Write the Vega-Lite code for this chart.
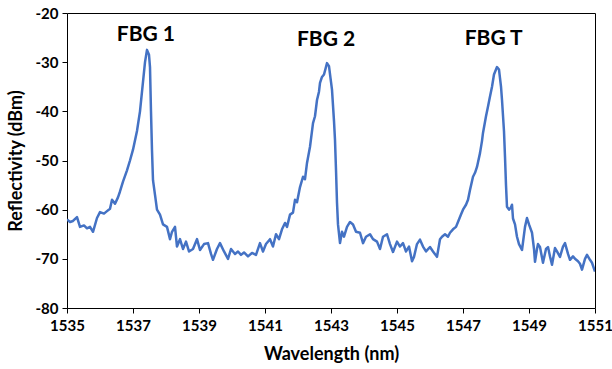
{
  "$schema": "https://vega.github.io/schema/vega-lite/v6.json",
  "width": 528,
  "height": 295,
  "autosize": {"type": "none"},
  "padding": {"left": 67, "top": 13, "right": 17, "bottom": 61},
  "background": "white",
  "config": {
    "view": {"stroke": "#000000", "strokeWidth": 1},
    "font": "Lato",
    "axis": {
      "grid": false,
      "domain": false,
      "tickColor": "#000000",
      "tickSize": 5,
      "labelFont": "Lato",
      "labelFontWeight": "bold",
      "labelFontSize": 15,
      "labelColor": "#000000",
      "titleFont": "Lato",
      "titleFontWeight": "bold",
      "titleFontSize": 18,
      "titleColor": "#000000"
    }
  },
  "datasets": {
    "spectrum": [
      {"wl": 1535.000, "r": -62.0}, {"wl": 1535.091, "r": -62.5}, {"wl": 1535.182, "r": -62.3}, {"wl": 1535.303, "r": -61.5},
      {"wl": 1535.394, "r": -63.5}, {"wl": 1535.515, "r": -63.2}, {"wl": 1535.606, "r": -63.8}, {"wl": 1535.697, "r": -63.5},
      {"wl": 1535.788, "r": -64.5}, {"wl": 1535.909, "r": -61.7}, {"wl": 1536.000, "r": -60.5}, {"wl": 1536.121, "r": -60.8},
      {"wl": 1536.212, "r": -60.3}, {"wl": 1536.303, "r": -59.8}, {"wl": 1536.364, "r": -58.0}, {"wl": 1536.455, "r": -58.8},
      {"wl": 1536.545, "r": -57.5}, {"wl": 1536.606, "r": -56.3}, {"wl": 1536.697, "r": -54.3}, {"wl": 1536.818, "r": -52.0},
      {"wl": 1536.909, "r": -50.0}, {"wl": 1537.000, "r": -47.8}, {"wl": 1537.121, "r": -44.0}, {"wl": 1537.212, "r": -40.0},
      {"wl": 1537.303, "r": -34.0}, {"wl": 1537.364, "r": -30.0}, {"wl": 1537.424, "r": -27.5}, {"wl": 1537.485, "r": -28.5},
      {"wl": 1537.515, "r": -31.0}, {"wl": 1537.545, "r": -40.0}, {"wl": 1537.576, "r": -48.0}, {"wl": 1537.606, "r": -54.0},
      {"wl": 1537.667, "r": -57.0}, {"wl": 1537.727, "r": -60.0}, {"wl": 1537.818, "r": -61.0}, {"wl": 1537.909, "r": -63.0},
      {"wl": 1538.030, "r": -63.5}, {"wl": 1538.121, "r": -66.0}, {"wl": 1538.182, "r": -64.5}, {"wl": 1538.273, "r": -63.5},
      {"wl": 1538.333, "r": -67.5}, {"wl": 1538.424, "r": -66.0}, {"wl": 1538.515, "r": -68.0}, {"wl": 1538.606, "r": -66.5},
      {"wl": 1538.697, "r": -68.5}, {"wl": 1538.818, "r": -68.0}, {"wl": 1538.939, "r": -66.0}, {"wl": 1539.030, "r": -68.2},
      {"wl": 1539.152, "r": -67.0}, {"wl": 1539.273, "r": -66.8}, {"wl": 1539.364, "r": -69.0}, {"wl": 1539.424, "r": -70.2},
      {"wl": 1539.545, "r": -68.0}, {"wl": 1539.636, "r": -66.8}, {"wl": 1539.758, "r": -68.5}, {"wl": 1539.879, "r": -70.0},
      {"wl": 1539.970, "r": -68.0}, {"wl": 1540.091, "r": -69.0}, {"wl": 1540.182, "r": -68.5}, {"wl": 1540.273, "r": -69.2},
      {"wl": 1540.364, "r": -68.7}, {"wl": 1540.485, "r": -69.5}, {"wl": 1540.606, "r": -68.8}, {"wl": 1540.727, "r": -69.2},
      {"wl": 1540.848, "r": -66.8}, {"wl": 1540.939, "r": -68.5}, {"wl": 1541.030, "r": -67.0}, {"wl": 1541.152, "r": -66.0},
      {"wl": 1541.242, "r": -67.5}, {"wl": 1541.333, "r": -65.0}, {"wl": 1541.424, "r": -66.0}, {"wl": 1541.515, "r": -64.0},
      {"wl": 1541.606, "r": -62.7}, {"wl": 1541.667, "r": -63.5}, {"wl": 1541.758, "r": -61.0}, {"wl": 1541.848, "r": -60.6},
      {"wl": 1541.909, "r": -58.0}, {"wl": 1541.970, "r": -58.5}, {"wl": 1542.061, "r": -55.4}, {"wl": 1542.152, "r": -53.3},
      {"wl": 1542.212, "r": -53.8}, {"wl": 1542.273, "r": -50.5}, {"wl": 1542.364, "r": -47.2}, {"wl": 1542.455, "r": -42.4},
      {"wl": 1542.515, "r": -41.0}, {"wl": 1542.576, "r": -37.7}, {"wl": 1542.636, "r": -36.0}, {"wl": 1542.667, "r": -34.2},
      {"wl": 1542.727, "r": -33.0}, {"wl": 1542.788, "r": -32.5}, {"wl": 1542.879, "r": -30.2}, {"wl": 1542.939, "r": -30.8},
      {"wl": 1543.000, "r": -34.0}, {"wl": 1543.030, "r": -35.6}, {"wl": 1543.091, "r": -42.0}, {"wl": 1543.121, "r": -45.8},
      {"wl": 1543.152, "r": -52.0}, {"wl": 1543.182, "r": -58.6}, {"wl": 1543.212, "r": -63.0}, {"wl": 1543.273, "r": -66.8},
      {"wl": 1543.333, "r": -64.5}, {"wl": 1543.394, "r": -65.5}, {"wl": 1543.485, "r": -63.5}, {"wl": 1543.576, "r": -62.5},
      {"wl": 1543.667, "r": -63.0}, {"wl": 1543.758, "r": -64.5}, {"wl": 1543.879, "r": -64.7}, {"wl": 1543.970, "r": -66.8},
      {"wl": 1544.061, "r": -65.5}, {"wl": 1544.182, "r": -65.0}, {"wl": 1544.273, "r": -66.0}, {"wl": 1544.394, "r": -66.5},
      {"wl": 1544.485, "r": -68.0}, {"wl": 1544.576, "r": -65.5}, {"wl": 1544.697, "r": -65.0}, {"wl": 1544.788, "r": -67.0},
      {"wl": 1544.879, "r": -68.6}, {"wl": 1545.000, "r": -66.5}, {"wl": 1545.091, "r": -67.5}, {"wl": 1545.182, "r": -66.8},
      {"wl": 1545.273, "r": -68.5}, {"wl": 1545.364, "r": -67.5}, {"wl": 1545.455, "r": -70.5}, {"wl": 1545.515, "r": -69.6},
      {"wl": 1545.606, "r": -67.0}, {"wl": 1545.697, "r": -66.1}, {"wl": 1545.788, "r": -67.5}, {"wl": 1545.879, "r": -68.5},
      {"wl": 1546.000, "r": -67.6}, {"wl": 1546.091, "r": -68.5}, {"wl": 1546.212, "r": -69.6}, {"wl": 1546.303, "r": -66.0},
      {"wl": 1546.364, "r": -65.5}, {"wl": 1546.455, "r": -65.0}, {"wl": 1546.545, "r": -65.5}, {"wl": 1546.606, "r": -64.7},
      {"wl": 1546.697, "r": -64.0}, {"wl": 1546.788, "r": -63.5}, {"wl": 1546.848, "r": -62.5}, {"wl": 1546.939, "r": -61.0},
      {"wl": 1547.000, "r": -60.0}, {"wl": 1547.091, "r": -59.0}, {"wl": 1547.152, "r": -58.0}, {"wl": 1547.212, "r": -56.0},
      {"wl": 1547.303, "r": -53.3}, {"wl": 1547.364, "r": -52.5}, {"wl": 1547.424, "r": -51.3}, {"wl": 1547.515, "r": -48.5},
      {"wl": 1547.576, "r": -46.0}, {"wl": 1547.606, "r": -44.4}, {"wl": 1547.697, "r": -41.0}, {"wl": 1547.758, "r": -39.0},
      {"wl": 1547.818, "r": -37.0}, {"wl": 1547.879, "r": -35.0}, {"wl": 1547.939, "r": -32.5}, {"wl": 1548.030, "r": -31.0},
      {"wl": 1548.091, "r": -31.5}, {"wl": 1548.152, "r": -35.0}, {"wl": 1548.182, "r": -37.7}, {"wl": 1548.242, "r": -44.0},
      {"wl": 1548.273, "r": -49.3}, {"wl": 1548.303, "r": -55.0}, {"wl": 1548.333, "r": -59.4}, {"wl": 1548.394, "r": -60.0},
      {"wl": 1548.455, "r": -59.5}, {"wl": 1548.485, "r": -59.0}, {"wl": 1548.515, "r": -61.8}, {"wl": 1548.576, "r": -63.0},
      {"wl": 1548.636, "r": -65.5}, {"wl": 1548.697, "r": -67.0}, {"wl": 1548.788, "r": -68.2}, {"wl": 1548.879, "r": -63.5},
      {"wl": 1548.939, "r": -61.7}, {"wl": 1549.000, "r": -63.0}, {"wl": 1549.091, "r": -64.7}, {"wl": 1549.152, "r": -68.0},
      {"wl": 1549.182, "r": -70.6}, {"wl": 1549.242, "r": -68.0}, {"wl": 1549.273, "r": -67.0}, {"wl": 1549.333, "r": -67.6},
      {"wl": 1549.424, "r": -70.8}, {"wl": 1549.515, "r": -68.0}, {"wl": 1549.576, "r": -67.6}, {"wl": 1549.636, "r": -69.5},
      {"wl": 1549.697, "r": -71.2}, {"wl": 1549.788, "r": -67.8}, {"wl": 1549.848, "r": -68.5}, {"wl": 1549.939, "r": -69.6},
      {"wl": 1550.030, "r": -67.5}, {"wl": 1550.091, "r": -66.8}, {"wl": 1550.182, "r": -69.0}, {"wl": 1550.242, "r": -70.2},
      {"wl": 1550.333, "r": -69.5}, {"wl": 1550.394, "r": -70.0}, {"wl": 1550.485, "r": -70.5}, {"wl": 1550.545, "r": -71.0},
      {"wl": 1550.606, "r": -72.2}, {"wl": 1550.697, "r": -70.0}, {"wl": 1550.758, "r": -69.2}, {"wl": 1550.848, "r": -70.2},
      {"wl": 1550.909, "r": -70.8}, {"wl": 1551.000, "r": -72.6}
    ],
    "labels": [
      {"label": "FBG 1", "wl": 1537.39, "r": -24.5},
      {"label": "FBG 2", "wl": 1542.85, "r": -25.5},
      {"label": "FBG T", "wl": 1547.93, "r": -25.3}
    ]
  },
  "layer": [
    {
      "data": {"name": "spectrum"},
      "mark": {"type": "line", "color": "#4472C4", "strokeWidth": 2.5, "strokeJoin": "round", "clip": true},
      "encoding": {
        "x": {
          "field": "wl", "type": "quantitative", "title": "Wavelength (nm)",
          "scale": {"domain": [1535, 1551], "nice": false, "zero": false},
          "axis": {"values": [1535, 1537, 1539, 1541, 1543, 1545, 1547, 1549, 1551], "labelExpr": "'' + datum.value", "labelPadding": 5, "titlePadding": 12, "labelFlush": false}
        },
        "y": {
          "field": "r", "type": "quantitative", "title": "Reflectivity (dBm)",
          "scale": {"domain": [-80, -20], "nice": false, "zero": false},
          "axis": {"values": [-80, -70, -60, -50, -40, -30, -20], "labelExpr": "'' + datum.value", "labelPadding": 4, "titlePadding": 10}
        }
      }
    },
    {
      "data": {"name": "labels"},
      "mark": {"type": "text", "font": "Lato", "fontWeight": "bold", "fontSize": 21, "color": "#000000", "baseline": "middle", "align": "center"},
      "encoding": {
        "x": {"field": "wl", "type": "quantitative"},
        "y": {"field": "r", "type": "quantitative"},
        "text": {"field": "label"}
      }
    }
  ]
}
